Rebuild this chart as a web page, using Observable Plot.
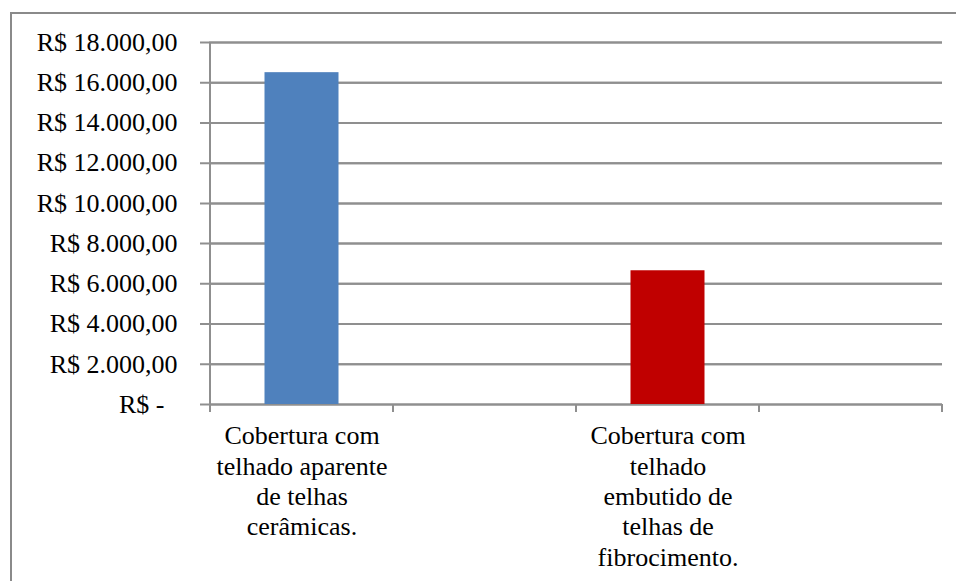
<!DOCTYPE html>
<html>
<head>
<meta charset="utf-8">
<script src="https://cdn.jsdelivr.net/npm/d3@7"></script>
<script src="https://cdn.jsdelivr.net/npm/@observablehq/plot@0.6"></script>
<style>
  html, body { margin: 0; padding: 0; background: #fff; overflow: hidden; }
  #wrap { position: relative; width: 956px; height: 581px; }
  #border { position: absolute; left: 10px; top: 12px; width: 1000px; height: 700px; border: 2px solid #8a8a8a; box-sizing: border-box; }
  #chart { position: absolute; left: 0; top: 0; }
</style>
</head>
<body>
<div id="wrap"><div id="border"></div><div id="chart"></div></div>
<script>
const categories = ["c1", "c2", "c3", "c4"];
const categoryLabels = [
  "Cobertura com\ntelhado aparente\nde telhas\ncerâmicas.",
  "",
  "Cobertura com\ntelhado\nembutido de\ntelhas de\nfibrocimento.",
  ""
];
const barCategories = ["c1", "c3"];
const barValues = [16500, 6650];
const barColors = ["#4f81bd", "#c00000"];
const yTicks = [0, 2000, 4000, 6000, 8000, 10000, 12000, 14000, 16000, 18000];
const yTickLabels = ["R$ -\u00a0\u00a0", "R$ 2.000,00", "R$ 4.000,00", "R$ 6.000,00", "R$ 8.000,00",
  "R$ 10.000,00", "R$ 12.000,00", "R$ 14.000,00", "R$ 16.000,00", "R$ 18.000,00"];

const bars = barCategories.map((c, i) => ({cat: c, value: barValues[i], color: barColors[i]}));
const lineColor = "#8f8f8f";
const serif = "Liberation Serif";

const axisFrame = (index, scales, values, dims) => {
  const g = d3.create("svg:g");
  const x = scales.x, y = scales.y;
  const bw = x.bandwidth();
  const y0 = y(0);
  g.append("line").attr("x1", x(categories[0])).attr("x2", x(categories[0]))
    .attr("y1", y(18000)).attr("y2", y0 + 8).attr("stroke", lineColor).attr("stroke-width", 2);
  const bounds = categories.map(c => x(c)).concat([x(categories[categories.length - 1]) + bw]);
  for (const bx of bounds) {
    g.append("line").attr("x1", bx).attr("x2", bx).attr("y1", y0).attr("y2", y0 + 8)
      .attr("stroke", lineColor).attr("stroke-width", 2);
  }
  return g.node();
};

const plot = Plot.plot({
  width: 956,
  height: 581,
  marginLeft: 209,
  marginRight: 14,
  marginTop: 42,
  marginBottom: 177,
  style: {fontSize: "26px", color: "#000", background: "transparent"},
  x: {domain: categories, padding: 0},
  y: {domain: [0, 18000]},
  marks: [
    Plot.gridY(yTicks, {stroke: lineColor, strokeOpacity: 1, strokeWidth: 2}),
    Plot.ruleY(yTicks, {y: d => d, stroke: lineColor, strokeWidth: 2, insetLeft: -9}),
    Plot.barY(bars, {x: "cat", y: "value", fill: d => d.color, insetLeft: 54.5, insetRight: 54.5}),
    axisFrame,
    Plot.axisY({ticks: yTicks, tickSize: 0, tickPadding: 32, tickFormat: v => yTickLabels[yTicks.indexOf(v)], fill: "#000", fontSize: 26, label: null}),
    Plot.axisX({tickSize: 0, tickPadding: 18, tickFormat: c => categoryLabels[categories.indexOf(c)], fill: "#000", fontSize: 26, lineHeight: 1.17, label: null, lineAnchor: "top"})
  ]
});
document.getElementById("chart").appendChild(plot);
function forceSerif() {
  plot.style.setProperty("font-family", serif, "important");
  plot.querySelectorAll("g, text, tspan").forEach(el => {
    el.setAttribute("font-family", serif);
    el.style.setProperty("font-family", serif, "important");
  });
}
forceSerif();
</script>
</body>
</html>
